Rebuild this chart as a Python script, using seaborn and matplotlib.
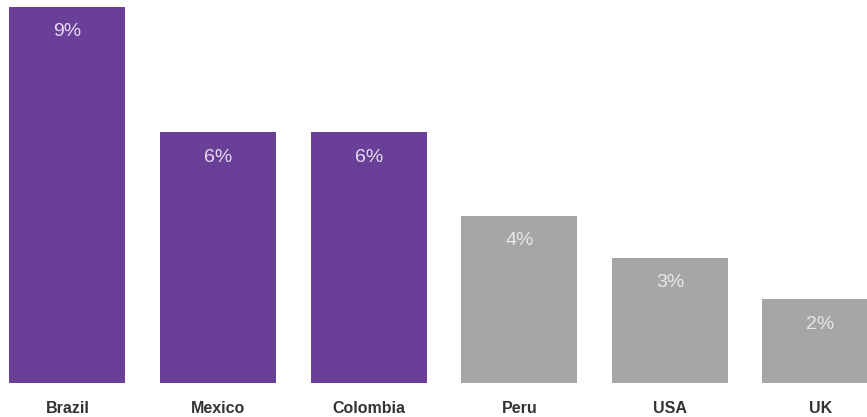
import matplotlib
matplotlib.use("Agg")
import matplotlib.pyplot as plt
import seaborn as sns
import pandas as pd

countries = ["Brazil", "Mexico", "Colombia", "Peru", "USA", "UK"]
shares = [9, 6, 6, 4, 3, 2]
bar_colors = ["#6A3F98", "#6A3F98", "#6A3F98", "#A6A6A6", "#A6A6A6", "#A6A6A6"]
label_colors = ["#E4DCF0", "#E4DCF0", "#E4DCF0", "#E8E8E8", "#E8E8E8", "#E8E8E8"]

sns.set_theme(style="white")
plt.rcParams["font.family"] = ["Liberation Sans", "DejaVu Sans"]

df = pd.DataFrame({"country": countries, "share": shares})

fig = plt.figure(figsize=(8.67, 4.17), dpi=100)
ax = fig.add_axes([0, (417 - 383) / 417, 1, 383 / 417])

sns.barplot(data=df, x="country", y="share", hue="country",
            palette=bar_colors, width=0.77, legend=False, ax=ax,
            saturation=1, linewidth=0)

ax.set_xlim(-0.448, 5.309)
ax.set_ylim(0, 9.167)

for i, (v, c) in enumerate(zip(shares, label_colors)):
    ax.annotate(f"{v}%", (i, v), xytext=(0, -25), textcoords="offset pixels",
                ha="center", va="center", fontsize=14, color=c)

ax.set_xlabel("")
ax.set_ylabel("")
ax.set_yticks([])
ax.tick_params(axis="x", length=0, pad=13)
for lab in ax.get_xticklabels():
    lab.set_fontweight("bold")
    lab.set_fontsize(11.5)
    lab.set_color("#333333")
sns.despine(ax=ax, left=True, bottom=True, top=True, right=True)

fig.savefig("out.png", dpi=100)
